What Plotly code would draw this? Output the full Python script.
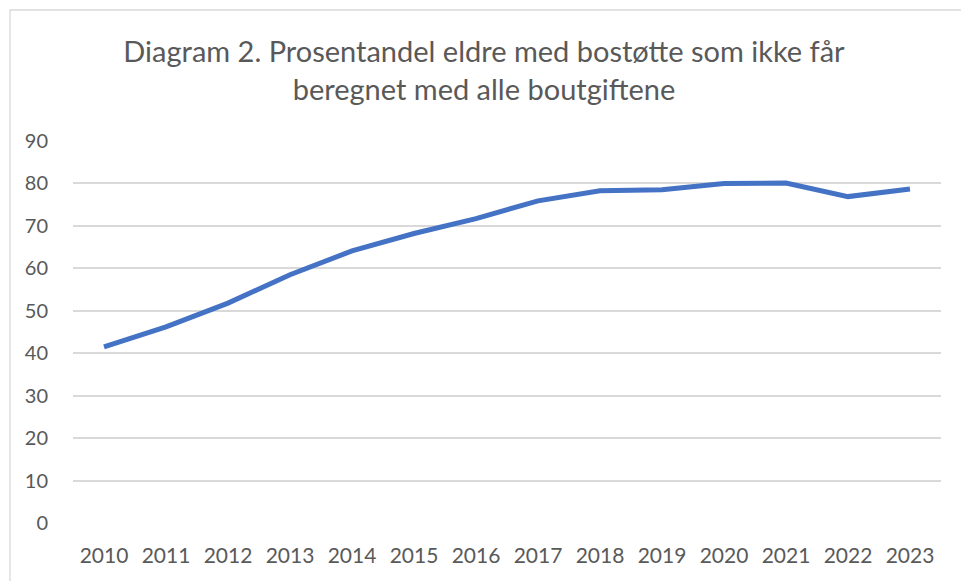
import plotly.graph_objects as go

years = ["2010", "2011", "2012", "2013", "2014", "2015", "2016",
         "2017", "2018", "2019", "2020", "2021", "2022", "2023"]
andel = [41.5, 46.2, 51.8, 58.5, 64.1, 68.2, 71.7,
         75.9, 78.3, 78.5, 80.0, 80.1, 76.9, 78.7]
y_ticks = [0, 10, 20, 30, 40, 50, 60, 70, 80, 90]
title_text = "Diagram 2. Prosentandel eldre med bostøtte som ikke får<br>beregnet med alle boutgiftene"

FONT = "Lato, 'Open Sans', sans-serif"
W, H = 961, 581
L, R, T, B = 73, 20, 141, 58
pw = W - L - R
ph = H - T - B

fig = go.Figure()
fig.add_trace(go.Scatter(
    x=years, y=andel, mode="lines",
    line=dict(color="#4472C4", width=5),
    hoverinfo="x+y", showlegend=False,
))

# chart area border
x0 = (10 - L) / pw
x1 = (975 - L) / pw
y1 = (H - B - 10) / ph
y0 = (H - B - 600) / ph
fig.add_shape(type="rect", xref="paper", yref="paper",
              x0=x0, x1=x1, y0=y0, y1=y1,
              line=dict(color="#D9D9D9", width=1.3), layer="below")

fig.update_layout(
    width=W, height=H,
    margin=dict(l=L, r=R, t=T, b=B),
    paper_bgcolor="white", plot_bgcolor="white",
    font=dict(family=FONT, color="#595959", size=21),
    title=dict(text=title_text, x=484 / W, xanchor="center",
               y=1 - 62 / H, yanchor="middle",
               font=dict(family=FONT, size=29, color="#595959")),
    xaxis=dict(type="category", range=[-0.5, len(years) - 0.5],
               showgrid=False, zeroline=False,
               showline=False, ticks="outside", ticklen=14,
               tickcolor="rgba(0,0,0,0)",
               tickfont=dict(size=21, color="#595959")),
    yaxis=dict(range=[0, 90], tickvals=y_ticks, showgrid=True,
               gridcolor="#D9D9D9", gridwidth=1.5, zeroline=False,
               showline=False, ticks="outside", ticklen=20,
               tickcolor="rgba(0,0,0,0)",
               tickfont=dict(size=20, color="#595959")),
)

fig.write_html("out.html", config={"displayModeBar": False},
               post_script="document.body.style.margin='0';document.body.style.overflow='hidden';")
